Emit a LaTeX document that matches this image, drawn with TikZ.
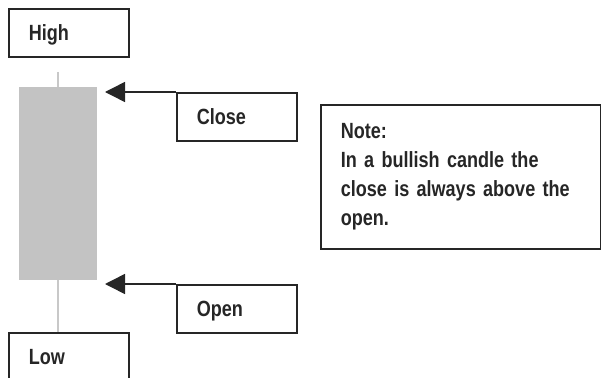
\documentclass[tikz,border=0pt]{standalone}
\usepackage{fontspec}
\newfontfamily\lab{Liberation Sans}[FakeStretch=0.82]
\usetikzlibrary{arrows.meta}
\definecolor{edge}{HTML}{262626}
\definecolor{body}{HTML}{C3C3C3}
\definecolor{wick}{HTML}{C8C8C8}
\tikzset{
  lbl/.style={draw=edge, line width=1.6pt, fill=white, anchor=north west,
    minimum width=120pt, minimum height=48pt, inner xsep=20pt, inner ysep=0pt,
    text width=80pt, align=left, text height=15.5pt, text depth=0pt,
    font=\lab\bfseries\fontsize{22}{29}\selectfont, text=edge},
  notebox/.style={draw=edge, line width=1.6pt, anchor=north west,
    minimum width=280pt, minimum height=144pt, inner xsep=20pt, inner ysep=0pt,
    text width=240pt, align=left,
    font=\lab\bfseries\fontsize{22}{29}\selectfont, text=edge},
  pointer/.style={draw=edge, line width=1.5pt, -{Triangle[length=20pt,width=20pt]}},
}
\begin{document}
\begin{tikzpicture}[x=1pt,y=-1pt]
\useasboundingbox (0,0) rectangle (601,377);
\clip (0,0) rectangle (601,377);
% wick and body
\coordinate (wicktop) at (58,72);
\coordinate (wickbot) at (58,332);
\draw[wick, line width=1.5pt] (wicktop) -- (wickbot);
\fill[body] (19,87) rectangle (97,280);
% labels
\node[lbl] (high) at (8,8) {High};
\node[lbl] (close) at (176,92) {Close};
\node[lbl] (open) at (176,284) {Open};
\node[lbl] (low) at (8,332) {Low};
\node[notebox] (note) at (320,104) {Note:\\In a bullish candle the\\close is always above the\\open.};
% arrows
\coordinate (closetip) at (105,92);
\coordinate (opentip) at (105,284);
\draw[pointer] (close.north west) -- (closetip);
\draw[pointer] (open.north west) -- (opentip);
\end{tikzpicture}
\end{document}
